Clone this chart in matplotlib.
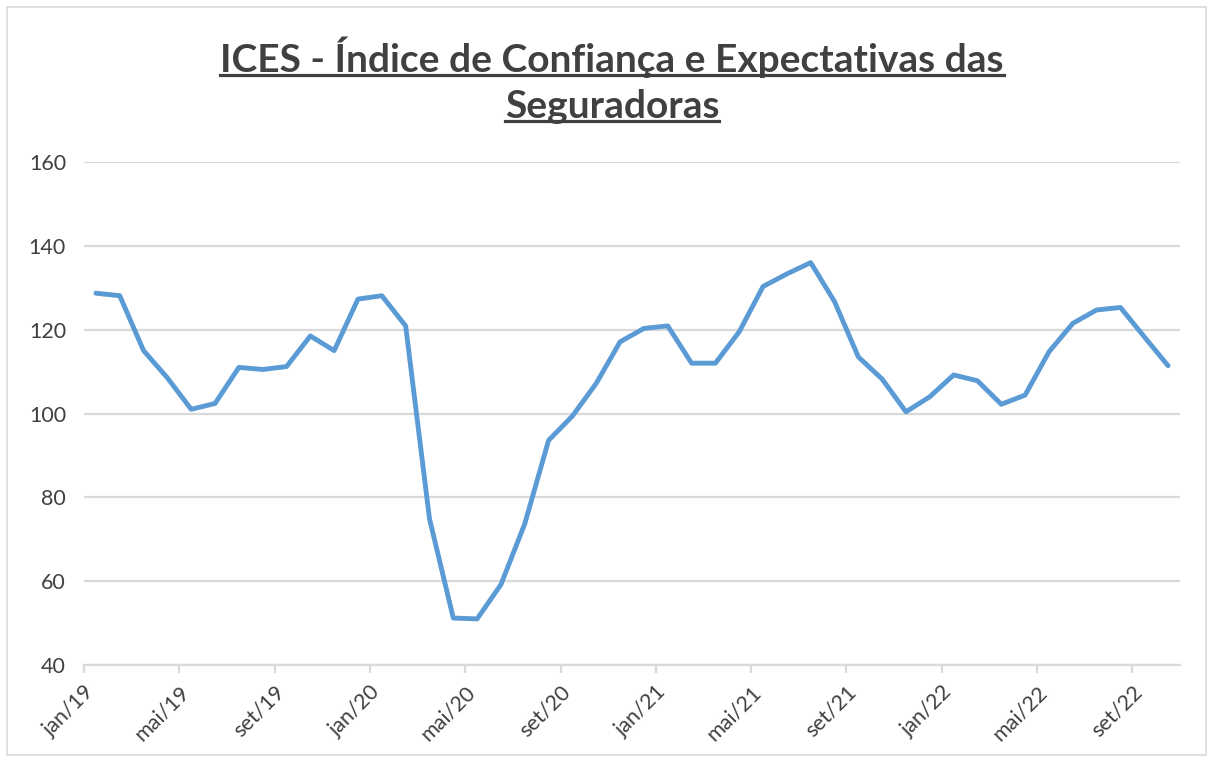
import matplotlib.pyplot as plt
from matplotlib.patches import Rectangle
from matplotlib.lines import Line2D

# dados (jan/19 a out/22)
meses = ['jan', 'fev', 'mar', 'abr', 'mai', 'jun', 'jul', 'ago', 'set', 'out', 'nov', 'dez']
anos = ['19', '20', '21', '22']
periodos = [m + '/' + a for a in anos for m in meses][:46]

ices = [128.7, 128.1, 115.0, 108.5, 101.0, 102.4, 111.0, 110.5, 111.2, 118.5,
        115.0, 127.3, 128.1, 120.9, 74.9, 51.2, 51.0, 59.2, 73.7, 93.6,
        99.4, 107.2, 117.1, 120.3, 120.9, 112.0, 112.0, 119.5, 130.3, 133.3,
        136.0, 126.7, 113.5, 108.2, 100.4, 104.0, 109.2, 107.8, 102.2, 104.4,
        114.7, 121.5, 124.7, 125.3, 118.3, 111.4]

yticks = [40, 60, 80, 100, 120, 140, 160]

plt.rcParams['font.family'] = ['Lato', 'DejaVu Sans']

fig = plt.figure(figsize=(12.13, 7.62), dpi=100)
ax = fig.add_axes([84 / 1213, 1 - 665 / 762, (1180 - 84) / 1213, (665 - 162) / 762])

x = list(range(len(ices)))
ax.plot(x, ices, color='#5B9BD5', lw=3.5, solid_joinstyle='round', solid_capstyle='round')

ax.set_xlim(-0.5, len(ices) - 0.5)
ax.set_ylim(40, 160)
ax.set_yticks(yticks)
ax.set_yticklabels([str(v) for v in yticks], fontsize=15.5, color='#404040')
ax.grid(axis='y', color='#D9D9D9', lw=1.6)
ax.set_axisbelow(True)
ax.tick_params(axis='y', length=0, pad=13)

# ticks nas fronteiras das categorias, rotulo a cada 4 meses
pos = [k - 0.5 for k in range(0, len(ices), 4)]
ax.set_xticks(pos)
ax.set_xticklabels([periodos[k] for k in range(0, len(ices), 4)], rotation=45,
                   ha='right', rotation_mode='anchor', fontsize=15.5, color='#404040')
ax.tick_params(axis='x', length=6, width=1.6, color='#D9D9D9', pad=6)

for s in ['top', 'right', 'left']:
    ax.spines[s].set_visible(False)
ax.spines['bottom'].set_color('#D9D9D9')
ax.spines['bottom'].set_linewidth(1.6)

# titulo sublinhado
t1 = fig.text(0.5045, 1 - 57 / 762, 'ICES - Índice de Confiança e Expectativas das',
              ha='center', va='center', fontsize=28, fontweight='bold', color='#404040')
t2 = fig.text(0.5045, 1 - 106 / 762, 'Seguradoras',
              ha='center', va='center', fontsize=28, fontweight='bold', color='#404040')
fig.canvas.draw()
r = fig.canvas.get_renderer()
inv = fig.transFigure.inverted()
for t in (t1, t2):
    bb = t.get_window_extent(r)
    (x0, y0), (x1, y1) = inv.transform([(bb.x0, bb.y0), (bb.x1, bb.y1)])
    yl = y0 + 0.003
    fig.add_artist(Line2D([x0, x1], [yl, yl], transform=fig.transFigure,
                          color='#404040', lw=2.3))

fig.add_artist(Rectangle((7 / 1213, 7 / 762), 1199 / 1213, 748 / 762,
                         transform=fig.transFigure, fill=False,
                         edgecolor='#D9D9D9', lw=1.2))

plt.savefig('out.png', dpi=100)
